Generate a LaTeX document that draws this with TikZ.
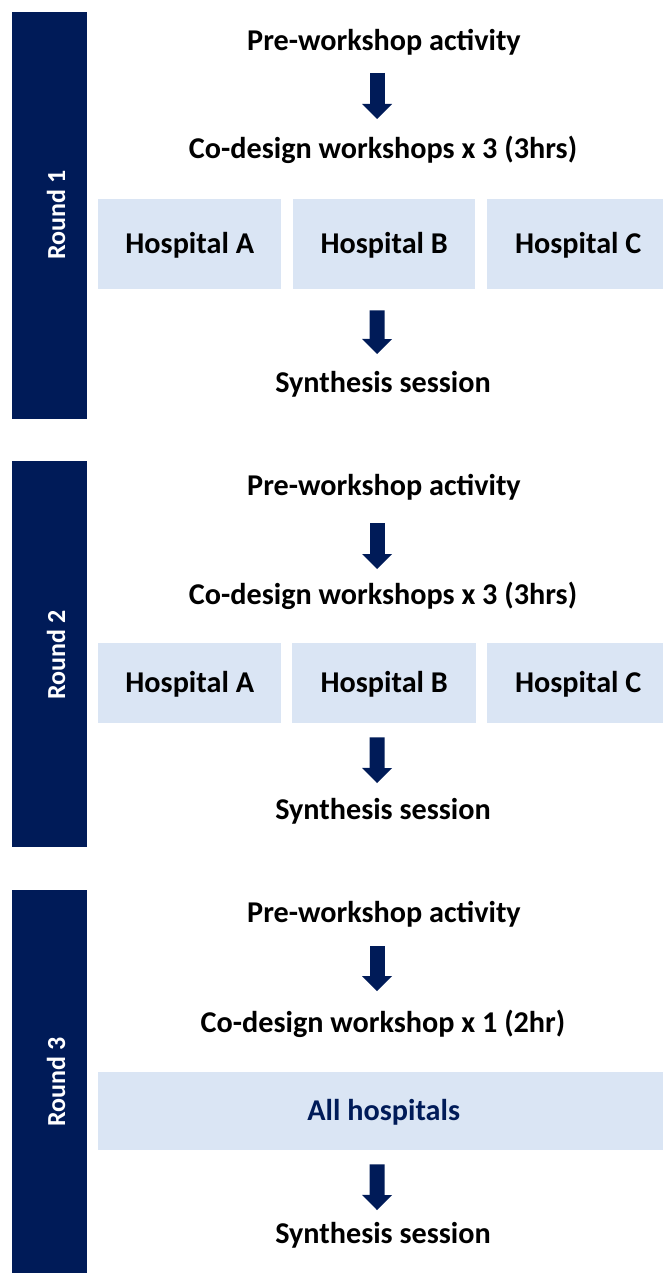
\documentclass[tikz,border=0pt]{standalone}
\usepackage{fontspec}
\setmainfont{Carlito}
\usetikzlibrary{arrows.meta,calc}
\definecolor{navy}{RGB}{0,27,88}
\definecolor{paleblue}{RGB}{218,229,244}
\begin{document}
\begin{tikzpicture}[x=1pt,y=-1pt,
  lbl/.style={font=\bfseries\fontsize{30.2}{32}\selectfont, anchor=base, inner sep=0pt},
  roundlbl/.style={font=\bfseries\fontsize{26}{28}\selectfont, text=white, rotate=90, anchor=base, inner sep=0pt},
  bar/.style={fill=navy, draw=none, inner sep=0pt, anchor=north west, minimum width=75pt},
  hosp/.style={fill=paleblue, draw=none, inner sep=0pt, font=\bfseries\fontsize{30.2}{32}\selectfont, text height=19pt, text depth=0pt, anchor=north west},
  blockarrow/.style={draw=navy, line width=15pt, -{Triangle[width=30pt,length=15pt,line width=0pt]}}]
\useasboundingbox (0,0) rectangle (662,1273);
% ---------- Round 1 ----------
\node[bar, minimum height=407pt] (bar1) at (12,12) {};
\node[roundlbl] (r1) at (65,215) {Round 1};
\node[lbl] (pre1) at (384,51) {Pre-workshop activity};
\node[lbl] (co1) at (383,159) {Co-design workshops x 3 (3hrs)};
\node[hosp, minimum width=183pt, minimum height=90pt] (hA1) at (98,199) {Hospital A};
\node[hosp, minimum width=182pt, minimum height=90pt] (hB1) at (293,199) {Hospital B};
\node[hosp, minimum width=182pt, minimum height=90pt] (hC1) at (487,199) {Hospital C};
\node[lbl] (syn1) at (383,392) {Synthesis session};
\draw[blockarrow] ($(pre1.base)+(-7,22)$) -- ($(co1.base)+(-6,-40)$);
\draw[blockarrow] ($(hB1.south)+(-7,21)$) -- ($(syn1.base)+(-6,-38)$);
% ---------- Round 2 ----------
\node[bar, minimum height=386pt] (bar2) at (12,461) {};
\node[roundlbl] (r2) at (65,655) {Round 2};
\node[lbl] (pre2) at (384,495) {Pre-workshop activity};
\node[lbl] (co2) at (383,604) {Co-design workshops x 3 (3hrs)};
\node[hosp, minimum width=183pt, minimum height=80pt] (hA2) at (98,643) {Hospital A};
\node[hosp, minimum width=184pt, minimum height=80pt] (hB2) at (292,643) {Hospital B};
\node[hosp, minimum width=182pt, minimum height=80pt] (hC2) at (487,643) {Hospital C};
\node[lbl] (syn2) at (383,819) {Synthesis session};
\draw[blockarrow] ($(pre2.base)+(-7,28)$) -- ($(co2.base)+(-6,-35)$);
\draw[blockarrow] ($(hB2.south)+(-7,14)$) -- ($(syn2.base)+(-6,-36)$);
% ---------- Round 3 ----------
\node[bar, minimum height=383pt] (bar3) at (12,890) {};
\node[roundlbl] (r3) at (65,1082) {Round 3};
\node[lbl] (pre3) at (384,922) {Pre-workshop activity};
\node[lbl] (co3) at (383,1032) {Co-design workshop x 1 (2hr)};
\node[hosp, minimum width=571pt, minimum height=78pt, text=navy] (all3) at (98,1072) {All hospitals};
\node[lbl] (syn3) at (383,1243) {Synthesis session};
\draw[blockarrow] ($(pre3.base)+(-7,24)$) -- ($(co3.base)+(-6,-41)$);
\draw[blockarrow] ($(all3.south)+(-6.5,14)$) -- ($(syn3.base)+(-6,-33)$);
\end{tikzpicture}
\end{document}
